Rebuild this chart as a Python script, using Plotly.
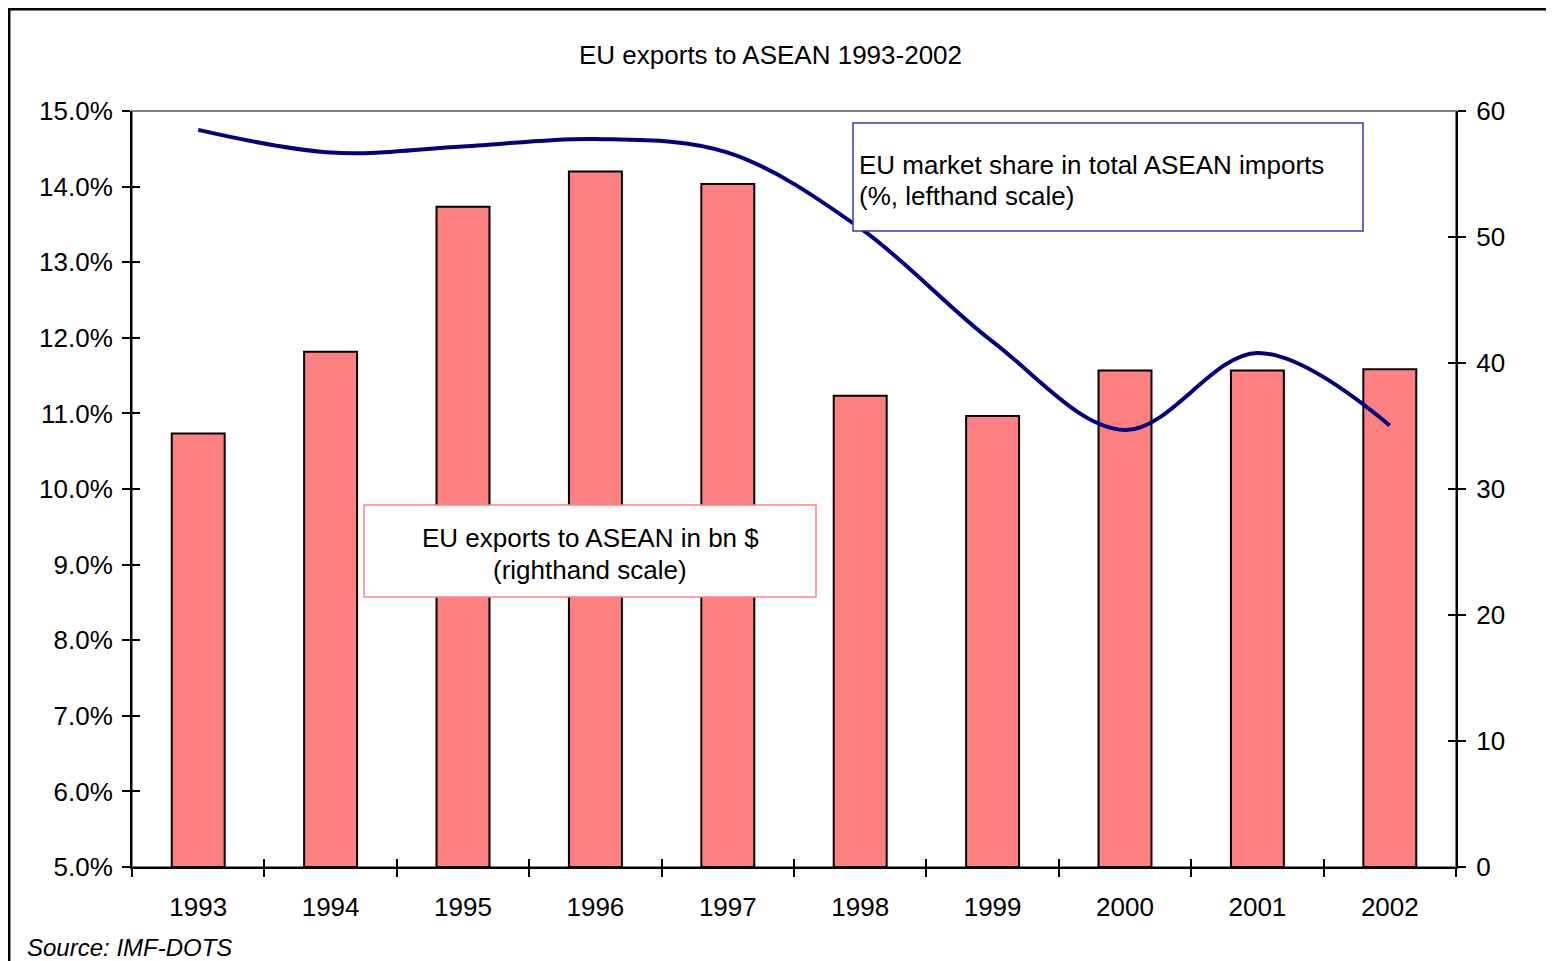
import plotly.graph_objects as go

years = ["1993", "1994", "1995", "1996", "1997", "1998", "1999", "2000", "2001", "2002"]
exports_bn = [34.4, 40.9, 52.4, 55.2, 54.2, 37.4, 35.8, 39.4, 39.4, 39.5]
market_share = [0.1475, 0.1445, 0.1453, 0.1463, 0.1445, 0.1345, 0.1195, 0.1078, 0.1180, 0.1084]
left_ticks = [0.05, 0.06, 0.07, 0.08, 0.09, 0.10, 0.11, 0.12, 0.13, 0.14, 0.15]
right_ticks = [0, 10, 20, 30, 40, 50, 60]

# page geometry (the html body adds an 8px margin around the figure)
OFF = 8
PAGE_W, PAGE_H = 1554, 961
W, H = PAGE_W - OFF, PAGE_H - OFF
L, R, T, B = 132, 1456, 111, 867  # plot area in page pixels


def px(x):
    return (x - L) / (R - L)


def py(y):
    return (B - y) / (B - T)


FONT = "Arial, Liberation Sans, sans-serif"
FS = 26
fig = go.Figure()

fig.add_trace(go.Bar(
    x=years, y=exports_bn, width=0.4,
    marker=dict(color="#FF8080", line=dict(color="black", width=2)),
    yaxis="y", xaxis="x", showlegend=False, hoverinfo="skip"))

fig.add_trace(go.Scatter(
    x=years, y=market_share, mode="lines",
    line=dict(color="#000080", width=4, shape="spline", smoothing=1),
    yaxis="y2", xaxis="x", showlegend=False, hoverinfo="skip"))

# empty helper traces so the tick-only overlay axes are drawn
fig.add_trace(go.Scatter(x=[], y=[], xaxis="x", yaxis="y3", showlegend=False, hoverinfo="skip"))
fig.add_trace(go.Scatter(x=[], y=[], xaxis="x", yaxis="y4", showlegend=False, hoverinfo="skip"))
fig.add_trace(go.Scatter(x=[], y=[], xaxis="x2", yaxis="y", showlegend=False, hoverinfo="skip"))

tickfont = dict(family=FONT, size=FS, color="black")
boundaries = [i - 0.5 for i in range(len(years) + 1)]

fig.update_layout(
    width=W, height=H,
    margin=dict(l=L - OFF, r=W - (R - OFF), t=T - OFF, b=H - (B - OFF), pad=0),
    paper_bgcolor="white", plot_bgcolor="white",
    font=dict(family=FONT, size=FS, color="black"),
    xaxis=dict(type="category", categoryorder="array", categoryarray=years,
               range=[-0.5, len(years) - 0.5],
               tickson="boundaries", ticks="outside", ticklen=8, tickwidth=1.5, tickcolor="black",
               showline=True, linecolor="black", linewidth=2, showgrid=False, zeroline=False,
               tickfont=tickfont, ticklabelstandoff=16),
    xaxis2=dict(overlaying="x", anchor="y", side="bottom", type="linear",
                range=[-0.5, len(years) - 0.5], tickvals=boundaries,
                ticks="inside", ticklen=8, tickwidth=1.5, tickcolor="black",
                showticklabels=False, showline=False, showgrid=False, zeroline=False),
    yaxis=dict(side="right", range=[0, 60], tickvals=right_ticks,
               ticks="outside", ticklen=8, tickwidth=1.5, tickcolor="black",
               showline=True, linecolor="black", linewidth=2, showgrid=False, zeroline=False,
               tickfont=tickfont, ticklabelstandoff=5),
    yaxis2=dict(side="left", overlaying="y", anchor="x", range=[0.05, 0.15], tickvals=left_ticks,
                tickformat=".1%", ticks="outside", ticklen=8, tickwidth=1.5, tickcolor="black",
                showline=True, linecolor="black", linewidth=2, showgrid=False, zeroline=False,
                tickfont=tickfont, ticklabelstandoff=4),
    yaxis3=dict(side="left", overlaying="y", anchor="x", range=[0.05, 0.15], tickvals=left_ticks,
                ticks="inside", ticklen=8, tickwidth=1.5, tickcolor="black",
                showticklabels=False, showline=False, showgrid=False, zeroline=False),
    yaxis4=dict(side="right", overlaying="y", anchor="x", range=[0, 60], tickvals=right_ticks,
                ticks="inside", ticklen=8, tickwidth=1.5, tickcolor="black",
                showticklabels=False, showline=False, showgrid=False, zeroline=False),
)

shapes = [
    # plot area border (grey)
    dict(type="rect", xref="paper", yref="paper", x0=0, x1=1, y0=0, y1=1,
         line=dict(color="#808080", width=2), layer="below"),
    # outer chart frame (left and top edges)
    dict(type="line", xref="paper", yref="paper", x0=px(OFF + 1.2), x1=px(OFF + 1.2),
         y0=py(OFF), y1=py(PAGE_H + 5), line=dict(color="black", width=2.5)),
    dict(type="line", xref="paper", yref="paper", x0=px(OFF), x1=px(PAGE_W + 5),
         y0=py(OFF + 1.2), y1=py(OFF + 1.2), line=dict(color="black", width=2.5)),
    # legend-like text boxes
    dict(type="rect", xref="paper", yref="paper", x0=px(853), x1=px(1363), y0=py(231), y1=py(123),
         line=dict(color="#3838A8", width=1.5), fillcolor="white", layer="above"),
    dict(type="rect", xref="paper", yref="paper", x0=px(364), x1=px(816), y0=py(597), y1=py(505),
         line=dict(color="#FF8080", width=1.5), fillcolor="white", layer="above"),
]
fig.update_layout(shapes=shapes)


def label(text, x, y, xanchor="left", size=FS):
    return dict(text=text, x=px(x), y=py(y), xref="paper", yref="paper",
                xanchor=xanchor, yanchor="middle", showarrow=False,
                font=dict(family=FONT, size=size, color="black"))


annotations = [
    label("EU exports to ASEAN 1993-2002", 770, 55, "center"),
    label("EU market share in total ASEAN imports", 857, 165),
    label("(%, lefthand scale)", 857, 196),
    label("EU exports to ASEAN in bn $", 590, 538, "center"),
    label("(righthand scale)", 590, 570, "center"),
    label("<i>Source: IMF-DOTS</i>", 25, 947, "left", 24),
]
fig.update_layout(annotations=annotations)

fig.write_html("out.html")
